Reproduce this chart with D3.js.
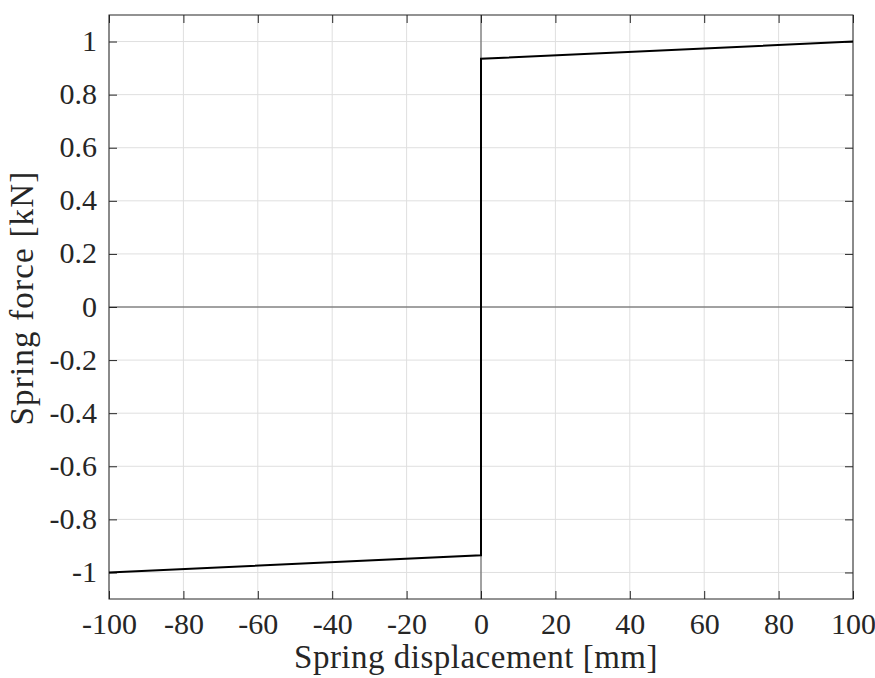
<!DOCTYPE html>
<html>
<head>
<meta charset="utf-8">
<script src="https://cdn.jsdelivr.net/npm/d3@7"></script>
<style>
  html, body { margin: 0; padding: 0; background: #fff; }
  svg { display: block; }
</style>
</head>
<body>
<svg id="chart" width="875" height="678"></svg>
<script>
// Spring force vs. displacement (friction-type spring with small stiffness)
const displacement = [-100, 0, 0, 100];          // mm
const force = [-1, -0.935, 0.935, 1];            // kN
const xTicks = [-100, -80, -60, -40, -20, 0, 20, 40, 60, 80, 100];
const yTicks = [-1, -0.8, -0.6, -0.4, -0.2, 0, 0.2, 0.4, 0.6, 0.8, 1];
const xLabel = "Spring displacement [mm]";
const yLabel = "Spring force [kN]";

const FONT = '"Liberation Serif", "DejaVu Serif", serif';
const INK = "#262626";

const svg = d3.select("#chart");
const L = 109, R = 853, T = 15, B = 599;

const x = d3.scaleLinear().domain([-100, 100]).range([L, R]);
const y = d3.scaleLinear().domain([-1.1, 1.1]).range([B, T]);

const fmt = v => (Math.abs(v) < 1e-9 ? "0" : String(+v.toFixed(1)));

// grid
const grid = svg.append("g");
grid.selectAll(".gx").data(xTicks).join("line")
  .attr("x1", d => x(d)).attr("x2", d => x(d))
  .attr("y1", T).attr("y2", B)
  .attr("stroke", "#dfdfdf").attr("stroke-width", 1);
grid.selectAll(".gy").data(yTicks).join("line")
  .attr("x1", L).attr("x2", R)
  .attr("y1", d => y(d)).attr("y2", d => y(d))
  .attr("stroke", "#dfdfdf").attr("stroke-width", 1);

// zero reference lines
svg.append("line").attr("x1", x(0)).attr("x2", x(0)).attr("y1", T).attr("y2", B)
  .attr("stroke", "#555").attr("stroke-width", 1);
svg.append("line").attr("x1", L).attr("x2", R).attr("y1", y(0)).attr("y2", y(0))
  .attr("stroke", "#555").attr("stroke-width", 1);

// axes (ticks inward, mirrored on all sides)
const tl = 8;
const axB = svg.append("g").attr("transform", `translate(0,${B})`)
  .call(d3.axisBottom(x).tickValues(xTicks).tickSize(-tl).tickPadding(14).tickFormat(fmt));
const axT = svg.append("g").attr("transform", `translate(0,${T})`)
  .call(d3.axisTop(x).tickValues(xTicks).tickSize(-tl).tickFormat(""));
const axL = svg.append("g").attr("transform", `translate(${L},0)`)
  .call(d3.axisLeft(y).tickValues(yTicks).tickSize(-tl).tickPadding(12).tickFormat(fmt));
const axR = svg.append("g").attr("transform", `translate(${R},0)`)
  .call(d3.axisRight(y).tickValues(yTicks).tickSize(-tl).tickFormat(""));

[axB, axT, axL, axR].forEach(g => {
  g.attr("font-family", FONT).attr("font-size", 30);
  g.selectAll(".domain").remove();
  g.selectAll(".tick line").attr("stroke", INK).attr("stroke-width", 1);
  g.selectAll(".tick text").attr("fill", INK);
});
// bottom labels: baseline just below the ticks
axB.selectAll(".tick text").attr("dy", null).attr("y", 35);
axL.selectAll(".tick text").attr("dy", "0.3em");

// box
svg.append("rect").attr("x", L).attr("y", T).attr("width", R - L).attr("height", B - T)
  .attr("fill", "none").attr("stroke", INK).attr("stroke-width", 1);

// data line
const line = d3.line().x((d, i) => x(displacement[i])).y(d => y(d));
svg.append("path").datum(force).attr("d", line)
  .attr("fill", "none").attr("stroke", "#000").attr("stroke-width", 2);

// axis titles
svg.append("text").attr("x", 476).attr("y", 668)
  .attr("text-anchor", "middle").attr("font-family", FONT).attr("font-size", 33)
  .attr("letter-spacing", 0.5).attr("fill", INK).text(xLabel);
svg.append("text").attr("transform", `translate(33,298) rotate(-90)`)
  .attr("text-anchor", "middle").attr("font-family", FONT).attr("font-size", 33)
  .attr("letter-spacing", 1.2).attr("fill", INK).text(yLabel);
</script>
</body>
</html>
